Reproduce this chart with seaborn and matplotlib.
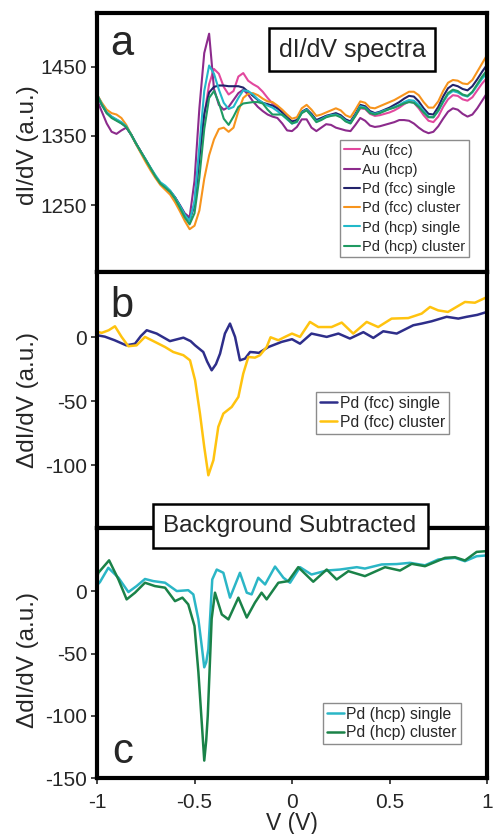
import numpy as np
import pandas as pd
import matplotlib
matplotlib.use("Agg")
import matplotlib.pyplot as plt
import seaborn as sns

# ---------------- data ----------------
# panel a: common bias grid (V), dI/dV spectra
v_a = np.linspace(-1.0, 1.0, 81)

a_au_fcc = [1410,1396,1384,1378,1373,1369,1363,1352,1339,1327,
            1315,1303,1291,1281,1275,1270,1261,1249,1236,1228,
            1252,1320,1380,1425,1447,1440,1421,1410,1415,1436,
            1441,1430,1425,1421,1414,1405,1397,1392,1384,1376,
            1370,1372,1384,1388,1380,1372,1375,1379,1380,1381,
            1378,1372,1369,1379,1390,1389,1382,1379,1380,1382,
            1384,1387,1391,1396,1400,1398,1390,1380,1372,1370,
            1378,1392,1403,1409,1408,1403,1401,1406,1416,1426,
            1434]
a_au_hcp = [1402,1385,1368,1356,1353,1358,1362,1352,1339,1327,
            1315,1303,1291,1281,1275,1270,1261,1250,1238,1232,
            1285,1390,1470,1498,1418,1395,1388,1392,1402,1412,
            1417,1410,1400,1392,1386,1381,1378,1376,1368,1358,
            1357,1363,1374,1374,1362,1357,1362,1367,1366,1362,
            1360,1358,1357,1366,1376,1372,1365,1363,1364,1366,
            1368,1370,1373,1373,1372,1368,1362,1357,1354,1356,
            1364,1375,1385,1390,1388,1382,1378,1381,1390,1401,
            1412]
a_pd_fcc_single = [1409,1395,1383,1377,1373,1369,1363,1352,1339,1327,
                   1315,1303,1291,1281,1275,1270,1261,1249,1236,1228,
                   1250,1318,1382,1413,1421,1423,1423,1422,1422,1422,
                   1420,1414,1408,1402,1398,1396,1394,1390,1384,1377,
                   1371,1373,1385,1389,1382,1373,1376,1379,1381,1383,
                   1380,1374,1371,1382,1395,1393,1386,1383,1385,1388,
                   1391,1395,1399,1404,1408,1407,1400,1390,1382,1381,
                   1392,1407,1419,1424,1422,1418,1416,1422,1432,1443,
                   1453]
a_pd_fcc_cluster = [1410,1398,1388,1383,1381,1376,1366,1352,1338,1325,
                    1312,1300,1289,1279,1272,1265,1254,1241,1227,1215,
                    1220,1242,1288,1322,1345,1360,1362,1356,1362,1386,
                    1405,1411,1412,1409,1404,1400,1399,1394,1388,1381,
                    1375,1377,1390,1395,1388,1379,1381,1384,1387,1390,
                    1387,1380,1377,1388,1400,1398,1391,1390,1393,1396,
                    1399,1402,1406,1410,1414,1414,1409,1399,1391,1391,
                    1400,1415,1427,1431,1430,1426,1425,1431,1443,1455,
                    1467]
a_pd_hcp_single = [1410,1396,1384,1378,1374,1370,1364,1352,1339,1327,
                   1316,1304,1293,1283,1278,1271,1261,1249,1236,1227,
                   1255,1335,1415,1452,1440,1417,1398,1389,1392,1405,
                   1416,1415,1410,1403,1398,1394,1391,1386,1380,1374,
                   1368,1370,1384,1388,1380,1371,1374,1378,1380,1381,
                   1378,1372,1369,1380,1393,1391,1384,1382,1384,1387,
                   1389,1392,1395,1399,1402,1401,1395,1386,1378,1377,
                   1386,1399,1410,1415,1413,1409,1407,1413,1423,1433,
                   1441]
a_pd_hcp_cluster = [1410,1395,1383,1376,1372,1368,1363,1352,1339,1327,
                    1315,1303,1291,1281,1275,1269,1259,1246,1232,1222,
                    1238,1290,1360,1405,1415,1398,1375,1366,1378,1392,
                    1397,1398,1399,1399,1397,1388,1381,1381,1381,1375,
                    1368,1371,1383,1387,1379,1370,1373,1377,1379,1380,
                    1377,1371,1368,1379,1391,1390,1383,1381,1383,1386,
                    1389,1391,1394,1397,1399,1398,1392,1384,1377,1377,
                    1387,1400,1412,1417,1415,1410,1408,1414,1425,1436,
                    1445]
labels_a = ["Au (fcc)", "Au (hcp)", "Pd (fcc) single", "Pd (fcc) cluster",
            "Pd (hcp) single", "Pd (hcp) cluster"]

# panel b: background subtracted, fcc
v_b_single = [-1.0,-0.96,-0.91,-0.85,-0.805,-0.775,-0.745,-0.694,-0.626,-0.557,
              -0.52,-0.497,-0.455,-0.435,-0.412,-0.39,-0.369,-0.344,-0.318,-0.292,
              -0.267,-0.241,-0.215,-0.19,-0.17,-0.121,-0.053,0.0,0.041,0.1,
              0.178,0.238,0.297,0.366,0.417,0.468,0.537,0.622,0.665,0.716,
              0.793,0.853,0.896,0.95,1.0]
b_single = [1.6,0.5,-2.3,-6.3,-5,1,5.5,2.9,-3,-0.3,
            -3,-6.3,-11.5,-19,-25.8,-21,-12.8,2.9,10.7,0.3,
            -18,-16.7,-11.5,-11.8,-12.2,-7.6,-3.6,-1.5,-5,2.9,
            0.3,2.9,-1,4,-0.5,4.7,2.9,9.4,10.7,12.5,
            16,14.6,16,17.5,19.8]
v_b_cluster = [-1.0,-0.975,-0.94,-0.908,-0.874,-0.839,-0.797,-0.754,-0.703,-0.651,
               -0.609,-0.557,-0.523,-0.497,-0.472,-0.45,-0.429,-0.403,-0.378,-0.352,
               -0.309,-0.275,-0.25,-0.224,-0.19,-0.164,-0.13,-0.11,-0.07,-0.036,
               0.0,0.041,0.092,0.135,0.203,0.255,0.314,0.383,0.442,0.511,
               0.596,0.665,0.708,0.75,0.80,0.887,0.938,1.0]
b_cluster = [4.2,3.5,5.5,8.6,0.3,-7,-6.3,0.3,-3.6,-7.6,
             -11.5,-14,-18,-33.6,-59.6,-85.7,-107.8,-96,-70,-59.6,
             -54.4,-46.6,-28.4,-15.4,-15.9,-14,-7.6,0,-2.3,0.3,
             2.9,0.3,12,8,8,11.5,2.9,12,8,14.6,
             15,18.5,23.7,21,19.8,27.6,27,31.4]
labels_b = ["Pd (fcc) single", "Pd (fcc) cluster"]

# panel c: background subtracted, hcp
v_c_single = [-1.0,-0.985,-0.942,-0.89,-0.839,-0.797,-0.754,-0.711,-0.651,-0.591,
              -0.532,-0.506,-0.48,-0.462,-0.45,-0.44,-0.429,-0.409,-0.386,-0.352,
              -0.318,-0.267,-0.232,-0.207,-0.173,-0.138,-0.087,-0.044,-0.01,0.041,
              0.1,0.178,0.246,0.332,0.374,0.46,0.537,0.605,0.682,0.75,
              0.836,0.887,0.947,1.0]
c_single = [5,7.5,19,11,-0.5,4.3,10,8.3,7,0.3,
            1,-2.4,-22.5,-45,-61,-57,-46.5,9.6,17.6,15,
            -5,15,-1,-2.4,11,5.6,20,11,7,19.5,
            13.6,16.8,17.6,19.5,18.4,21.7,22,23,21,25.7,
            27,24.3,28.3,29]
v_c_cluster = [-1.0,-0.993,-0.938,-0.89,-0.848,-0.805,-0.754,-0.703,-0.651,-0.6,
               -0.562,-0.532,-0.5,-0.48,-0.46,-0.45,-0.44,-0.432,-0.412,-0.395,
               -0.36,-0.326,-0.275,-0.232,-0.19,-0.156,-0.13,-0.07,-0.019,0.032,
               0.109,0.178,0.229,0.289,0.374,0.477,0.554,0.614,0.682,0.785,
               0.836,0.887,0.947,1.0]
c_cluster = [11,15,25,9.6,-6.4,-1,7,4.3,3,-7.8,
             -5,-10.4,-27.8,-65,-112,-136,-120,-100,-22,-1,
             -18.5,-22.5,-5,-21,-9,-1,-6.4,7,8.3,19.5,
             7.8,17.6,9.6,16.3,12.3,19.5,16.8,22.2,20.3,27,
             27.5,24.9,31.8,32.4]
labels_c = ["Pd (hcp) single", "Pd (hcp) cluster"]

x_ticks = [-1, -0.5, 0, 0.5, 1]
x_ticklabels = ["-1", "-0.5", "0", "0.5", "1"]
a_yticks = [1250, 1350, 1450]
b_yticks = [-100, -50, 0]
c_yticks = [-150, -100, -50, 0]

# ---------------- style ----------------
sns.set_style("white")
plt.rcParams['font.family'] = ['Liberation Sans', 'DejaVu Sans']
plt.rcParams['axes.unicode_minus'] = False

colors_a = ['#E2489E', '#8C2B8C', '#23236B', '#F7941D', '#22B9C9', '#1F9A62']
colors_b = ['#2E2E8A', '#FFC30F']
colors_c = ['#2BB6C6', '#1A8248']

fig = plt.figure(figsize=(4.93, 8.34), dpi=100)
L, W = 97/493, 390/493
ax_a = fig.add_axes([L, 1-272/834, W, (272-13)/834])
ax_b = fig.add_axes([L, 1-528/834, W, (528-272)/834])
ax_c = fig.add_axes([L, 1-778/834, W, (778-528)/834])

# panel a
for vals, lab, col in zip([a_au_fcc, a_au_hcp, a_pd_fcc_single, a_pd_fcc_cluster,
                           a_pd_hcp_single, a_pd_hcp_cluster], labels_a, colors_a):
    df = pd.DataFrame({"V": v_a, "y": vals})
    sns.lineplot(data=df, x="V", y="y", ax=ax_a, color=col, lw=1.5,
                 label=lab, estimator=None, sort=False)

for vv, vals, lab, col in zip([v_b_single, v_b_cluster], [b_single, b_cluster],
                              labels_b, colors_b):
    df = pd.DataFrame({"V": vv, "y": vals})
    sns.lineplot(data=df, x="V", y="y", ax=ax_b, color=col, lw=1.8,
                 label=lab, estimator=None, sort=False)

for vv, vals, lab, col in zip([v_c_single, v_c_cluster], [c_single, c_cluster],
                              labels_c, colors_c):
    df = pd.DataFrame({"V": vv, "y": vals})
    sns.lineplot(data=df, x="V", y="y", ax=ax_c, color=col, lw=1.8,
                 label=lab, estimator=None, sort=False)

ax_a.set_ylim(1153, 1528)
ax_b.set_ylim(-149, 51)
ax_c.set_ylim(-149, 51)
ax_a.set_yticks(a_yticks)
ax_b.set_yticks(b_yticks)
ax_c.set_yticks(c_yticks)

for ax in (ax_a, ax_b, ax_c):
    ax.set_xlim(-1, 1)
    ax.set_xticks(x_ticks)
    for s in ax.spines.values():
        s.set_linewidth(3.0)
        s.set_color('black')
    ax.tick_params(axis='y', direction='out', length=4, width=1.2,
                   labelsize=15, pad=3, left=True)
    ax.set_xlabel("")
for ax in (ax_a, ax_b):
    ax.tick_params(axis='x', bottom=False, labelbottom=False)
ax_c.set_xticklabels(x_ticklabels)
ax_c.tick_params(axis='x', direction='out', length=4, width=1.2,
                 labelsize=15, pad=7, bottom=True)
ax_c.set_xlabel("V (V)", fontsize=16.5, labelpad=0)

ax_a.set_ylabel("dI/dV (a.u.)", fontsize=17.5)
ax_b.set_ylabel("\u0394dI/dV (a.u.)", fontsize=17.5)
ax_c.set_ylabel("\u0394dI/dV (a.u.)", fontsize=17.5)
ax_a.yaxis.set_label_coords(-0.148, 0.49)
ax_b.yaxis.set_label_coords(-0.148, 0.5)
ax_c.yaxis.set_label_coords(-0.148, 0.47)

leg_kw = dict(frameon=True, fancybox=False, framealpha=1, edgecolor='#8c8c8c',
              handlelength=1.1, handletextpad=0.15, borderaxespad=0,
              borderpad=0.25, loc='upper left')
lg = ax_a.legend(bbox_to_anchor=(0.623, 0.51), fontsize=10.5, labelspacing=0.36, **leg_kw)
lg.get_frame().set_linewidth(1.0)
lg = ax_b.legend(bbox_to_anchor=(0.5615, 0.531), fontsize=11.3, labelspacing=0.25, **leg_kw)
lg.get_frame().set_linewidth(1.0)
lg = ax_c.legend(bbox_to_anchor=(0.579, 0.30), fontsize=11.3, labelspacing=0.22, **leg_kw)
lg.get_frame().set_linewidth(1.0)

# panel letters
fig.text(110/493, 1-55/834, "a", fontsize=30, ha='left', va='baseline')
fig.text(110/493, 1-317/834, "b", fontsize=30, ha='left', va='baseline')
fig.text(112/493, 1-763/834, "c", fontsize=30, ha='left', va='baseline')

# title boxes
fig.text(352/493, 1-49.5/834, "dI/dV spectra", ha='center', va='center', fontsize=18,
         bbox=dict(boxstyle='square,pad=0.38', fc='white', ec='black', lw=1.8), zorder=10)
fig.text(290/493, 1-526/834, "Background Subtracted", ha='center', va='center',
         fontsize=17.5,
         bbox=dict(boxstyle='square,pad=0.45', fc='white', ec='black', lw=1.8), zorder=10)

fig.savefig("out.png", dpi=100)
